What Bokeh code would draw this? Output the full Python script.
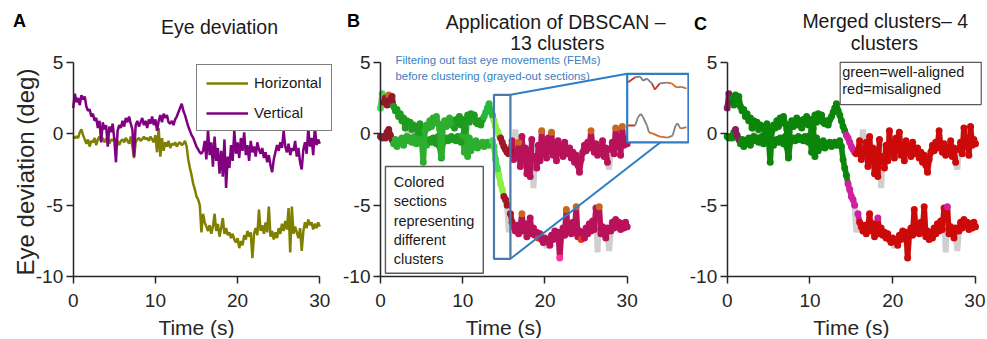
import math
from bokeh.plotting import figure
from bokeh.layouts import row
from bokeh.models import Range1d, FixedTicker, Label, Legend, LegendItem, ColumnDataSource
from bokeh.embed import file_html
from bokeh.resources import INLINE

FONT = "Liberation Sans"
AXIS_COLOR = "#262626"
TEXT_COLOR = "#1a1a1a"

TICKS_X = [0, 10, 20, 30]
TICKS_Y = [-10, -5, 0, 5]
TICK_TEXT_Y = {-10: "-10", -5: "-5", 0: "0", 5: "5"}

# Eye deviation traces (deg), sampled every 0.2 s from 0 to 30 s
VERTICAL = [
    1.8, 2.8, 2.2, 2.5, 2.0,
    2.7, 2.4, 2.6, 1.9, 1.6,
    1.7, 1.2, 1.4, 0.9, 1.1,
    0.4, 0.9, -0.6, 0.8, 0.3,
    0.6, -0.9, 0.5, 0.1, 0.7,
    -0.4, -2.0, 0.2, 0.6, 0.4,
    0.9, 0.5, 1.1, 0.8, 1.2,
    0.7, 0.3, -1.6, 0.6, 0.9,
    0.5, 0.8, 1.1, 0.6, 0.9,
    0.4, 1.0, 0.7, 1.2, 0.6,
    1.0, 0.2, 0.9, 1.3, 0.8,
    1.4, 1.1, 1.3, 0.8, 0.7,
    0.9, 0.6, 1.0, 1.2, 1.5,
    1.8, 2.1, 1.6, 1.3, 0.9,
    0.5, 0.2, -0.1, -0.3, -0.6,
    -0.9, -1.1, -1.3, -1.4, -1.2,
    -0.5, -1.8, 0.3, -1.5, -0.6,
    -2.3, -0.2, -1.9, -1.0, -2.8,
    -1.2, -3.0, -0.4, -3.8, -1.6,
    -2.4, -0.8, -1.9, 0.2, -1.4,
    -0.6, -1.7, -0.3, -1.2, 0.1,
    -1.5, -0.8, -1.9, -0.5, -1.3,
    -0.9, -1.6, -0.6, -1.1, -1.4,
    -1.0, -1.7, -1.3, -2.0, -1.5,
    -2.2, -2.7, -1.8, -1.3, -0.8,
    -1.2, -0.6, -1.0, 0.2, -0.9,
    -1.3, -0.7, -1.5, -1.0, -1.2,
    -0.5, -1.6, -1.0, -2.0, -2.5,
    -1.1, -0.6, -1.4, 0.4, -0.9,
    -0.3, -1.5, 0.5, -0.8, -0.4,
    -0.7,
]
HORIZONTAL = [
    -0.2, -0.3, -0.2, -0.3, 0.1,
    0.3, -0.1, -0.4, -0.7, -0.4,
    -0.9, -0.5, -0.6, -0.3, -0.8,
    -0.4, -0.2, -0.5, -0.3, -0.6,
    -0.4, -0.2, -0.7, -0.4, -0.5,
    -0.3, -0.6, -0.5, -0.8, -0.5,
    -0.4, -0.6, -0.3, -0.5, -0.7,
    -0.2, -0.9, -1.7, -0.6, -0.4,
    -0.3, -0.5, -0.4, -0.2, -0.4,
    -0.3, -0.5, -0.2, -0.4, -0.6,
    -0.1, -1.3, 0.4, -1.6, -0.3,
    -1.2, -0.6, -0.9, -0.5, -1.0,
    -0.7, -0.8, -0.6, -0.9, -0.7,
    -0.6, -0.8, -0.7, -0.5, -0.9,
    -1.8, -2.4, -2.9, -3.5, -3.9,
    -4.4, -4.6, -5.0, -6.9, -5.6,
    -6.2, -6.5, -6.8, -6.4, -7.0,
    -6.5, -5.6, -6.8, -6.3, -7.2,
    -6.6, -5.9, -7.0, -6.6, -7.1,
    -6.9, -7.3, -7.0, -7.4, -7.6,
    -7.3, -8.0, -7.5, -7.8, -7.1,
    -7.4, -6.8, -7.2, -6.9, -8.7,
    -7.0, -6.6, -7.1, -5.3, -6.8,
    -6.4, -7.0, -6.2, -6.9, -5.1,
    -7.2, -6.8, -7.4, -6.9, -7.3,
    -6.6, -7.0, -6.3, -6.8, -6.1,
    -6.7, -5.2, -8.3, -5.1, -7.0,
    -6.5, -6.9, -7.3, -6.6, -8.2,
    -6.8, -6.2, -6.6, -6.0, -6.4,
    -6.2, -6.7, -6.3, -6.6, -6.2,
    -6.5,
]
T = [round(i * 0.2, 1) for i in range(len(VERTICAL))]

# Samples removed as fast eye movements (shown only as gray line)
FEM_V = [3.4, 4.2, 16.4, 18.6, 27.8]
FEM_H = [15.6, 20.2, 26.4, 27.8]

# Panel B: DBSCAN clusters (segment start times and cluster names)
B_COLORS = {
    "maroon": "#8e1a2a", "ltgreen": "#45d855", "green1": "#1f9c1f", "green2": "#2eae2e",
    "green3": "#25b83d", "lime": "#8cf040", "dkred": "#a3162a", "crimson": "#b8125a",
    "orange": "#c9681c", "red": "#e8381a", "pink": "#ff3399",
}
B_V_STARTS = [0.0, 0.4, 1.6, 5.0, 9.0, 12.6, 13.8, 14.6, 16.0]
B_V_NAMES = ["ltgreen", "maroon", "green1", "green2", "green1", "green3", "lime", "dkred", "crimson"]
B_H_STARTS = [0.0, 1.6, 6.0, 10.0, 13.6, 14.4, 15.0, 16.2]
B_H_NAMES = ["maroon", "green2", "green1", "green2", "ltgreen", "lime", "dkred", "crimson"]
B_V_SPECKLE_T = [1.0, 16.8, 19.6, 20.8, 25.6, 28.6, 29.4]
B_V_SPECKLE = ["orange", "orange", "orange", "orange", "orange", "orange", "orange"]
B_H_SPECKLE_T = [17.2, 19.2, 22.6, 23.8, 24.4, 21.8, 26.6]
B_H_SPECKLE = ["orange", "red", "orange", "orange", "red", "pink", "orange"]

# Panel C: merged clusters
C_COLORS = {"green": "#0b860b", "red": "#cc0a0a", "magenta": "#d020a0", "dkmag": "#8b1a5e"}
C_V_STARTS = [0.0, 0.6, 14.4, 15.6]
C_V_NAMES = ["dkmag", "green", "magenta", "red"]
C_H_STARTS = [0.0, 1.0, 1.6, 14.6, 16.0]
C_H_NAMES = ["green", "dkmag", "green", "magenta", "red"]
C_H_SPECKLE_T = [18.2, 26.6]
C_H_SPECKLE = ["magenta", "magenta"]

# Zoomed inset in panel B (fractions of the inset box)
INSET_UP_X = [0.016, 0.129, 0.21, 0.258, 0.323, 0.403, 0.452, 0.532, 0.645, 0.726, 0.806, 0.887, 0.968]
INSET_UP_Y = [0.877, 0.95, 0.96, 0.90, 0.93, 0.86, 0.77, 0.86, 0.87, 0.86, 0.80, 0.81, 0.785]
INSET_UP_C = ["r", "g", "g", "g", "g", "r", "r", "g", "o", "o", "g", "o"]
INSET_LO_X = [0.016, 0.129, 0.177, 0.221, 0.258, 0.323, 0.355, 0.419, 0.532, 0.661, 0.742, 0.79, 0.823, 0.871, 0.968]
INSET_LO_Y = [0.245, 0.245, 0.366, 0.415, 0.366, 0.245, 0.146, 0.127, 0.083, 0.069, 0.098, 0.245, 0.275, 0.2, 0.22]
INSET_LO_C = ["r", "g", "g", "g", "g", "g", "o", "o", "o", "g", "g", "g", "g", "o"]
INSET_COLORS = {"r": "#c0392b", "g": "#808080", "o": "#d2691e"}

# Layout (pixels): each canvas is fully frame; axes drawn at fixed data locations
HEIGHT = 338
Y5_PX = 61.7          # pixel row of y = 5
PX_PER_DEG = 14.3


def y_range():
    return Range1d(-10 - (HEIGHT - Y5_PX - 15 * PX_PER_DEG) / PX_PER_DEG, 5 + Y5_PX / PX_PER_DEG)


def cluster_colors(starts, names, palette, sp_t=(), sp_n=()):
    out = []
    for t in T:
        nm = names[0]
        for s, n in zip(starts, names):
            if t >= s - 1e-9:
                nm = n
        for st, sn in zip(sp_t, sp_n):
            if abs(t - st) < 1e-6:
                nm = sn
        out.append(palette[nm])
    return out


def is_fem(t, fem):
    return any(abs(t - f) < 1e-6 for f in fem)


def draw_clusters(p, values, base_colors, dot_colors, fem):
    xs, ys, cs = [], [], []
    x0, y0, x1, y1, sc = [], [], [], [], []
    for i, (t, v) in enumerate(zip(T, values)):
        if is_fem(t, fem):
            continue
        xs.append(t)
        ys.append(v)
        cs.append(dot_colors[i])
        if i + 1 < len(T) and not is_fem(T[i + 1], fem):
            x0.append(t)
            y0.append(v)
            x1.append(T[i + 1])
            y1.append(values[i + 1])
            sc.append(base_colors[i])
    p.segment(x0=x0, y0=y0, x1=x1, y1=y1, line_color=sc, line_width=5.5)
    p.scatter("x", "y", source=ColumnDataSource(dict(x=xs, y=ys, c=cs)), size=7,
              fill_color="c", line_color=None)


def base_fig(width, x0_px, px_per_s):
    p = figure(width=width, height=HEIGHT,
               x_range=Range1d(-x0_px / px_per_s, (width - x0_px) / px_per_s), y_range=y_range(),
               output_backend="svg", toolbar_location=None,
               min_border_left=0, min_border_right=0, min_border_top=0, min_border_bottom=0)
    p.outline_line_color = None
    p.xgrid.visible = False
    p.ygrid.visible = False
    p.border_fill_color = "white"
    p.background_fill_color = "white"
    p.xaxis.ticker = FixedTicker(ticks=TICKS_X)
    p.yaxis.ticker = FixedTicker(ticks=TICKS_Y)
    p.yaxis.major_label_overrides = TICK_TEXT_Y
    p.xaxis.bounds = (0, 30)
    p.yaxis.bounds = (-10, 5)
    p.xaxis.fixed_location = -10
    p.yaxis.fixed_location = 0
    p.axis.axis_line_color = AXIS_COLOR
    p.axis.axis_line_width = 1.5
    p.axis.major_tick_line_color = AXIS_COLOR
    p.axis.major_tick_line_width = 1.5
    p.axis.major_tick_in = 0
    p.axis.major_tick_out = 7
    p.axis.minor_tick_line_color = None
    p.axis.major_label_text_font = FONT
    p.axis.major_label_text_font_size = "19px"
    p.axis.major_label_text_color = AXIS_COLOR
    p.xaxis.major_label_standoff = 10
    p.yaxis.major_label_standoff = 3
    return p


def txt(p, x, y, text, size, color=TEXT_COLOR, bold=False, align="center", baseline="middle", angle=0.0):
    p.add_layout(Label(x=x, y=y, text=text, text_font=FONT, text_font_size=size, text_color=color,
                       text_font_style="bold" if bold else "normal", text_align=align,
                       text_baseline=baseline, angle=angle))


# ---------------- Panel A ----------------
pA = base_fig(333, 72.7, 8.22)
rH = pA.line(T, HORIZONTAL, line_color="#808000", line_width=2.5)
rV = pA.line(T, VERTICAL, line_color="#800080", line_width=2.5)
leg = Legend(items=[LegendItem(label="Horizontal", renderers=[rH]),
                    LegendItem(label="Vertical", renderers=[rV])],
             location=(196, HEIGHT - 131), orientation="vertical", border_line_color="black",
             border_line_width=1.5, background_fill_color="white", background_fill_alpha=1.0,
             label_text_font=FONT, label_text_font_size="15px", label_text_color=TEXT_COLOR,
             glyph_width=42, glyph_height=16, label_height=16, label_standoff=6,
             padding=9, spacing=13, margin=0)
pA.add_layout(leg)
txt(pA, -6.53, 7.85, "A", "18px", color="black", bold=True)
txt(pA, 17.8, 7.43, "Eye deviation", "19.5px")
txt(pA, -5.8, -2.68, "Eye deviation (deg)", "24px", color=AXIS_COLOR, angle=math.pi / 2)
txt(pA, 15, -13.55, "Time (s)", "21px", color=AXIS_COLOR)

# ---------------- Panel B ----------------
pB = base_fig(356, 47, 8.223)
for vals in (VERTICAL, HORIZONTAL):
    pB.line(T, vals, line_color="#cfcfcf", line_width=6)
draw_clusters(pB, HORIZONTAL, cluster_colors(B_H_STARTS, B_H_NAMES, B_COLORS),
              cluster_colors(B_H_STARTS, B_H_NAMES, B_COLORS, B_H_SPECKLE_T, B_H_SPECKLE), FEM_H)
draw_clusters(pB, VERTICAL, cluster_colors(B_V_STARTS, B_V_NAMES, B_COLORS),
              cluster_colors(B_V_STARTS, B_V_NAMES, B_COLORS, B_V_SPECKLE_T, B_V_SPECKLE), FEM_V)

# zoom rectangle, connector lines and inset
RECT_L, RECT_R, RECT_B, RECT_T = 13.8, 15.8, -8.75, 2.72
INS_L, INS_R, INS_B, INS_T = 30.0, 37.45, -0.6, 4.19
pB.line([RECT_R, INS_L], [RECT_T, INS_T], line_color="#2f7ec5", line_width=2)
pB.line([RECT_R, 34.05], [RECT_B, INS_B], line_color="#2f7ec5", line_width=2)
pB.quad(left=RECT_L, right=RECT_R, bottom=RECT_B, top=RECT_T, fill_color=None,
        line_color="#4a78a8", line_width=2.2)
pB.quad(left=INS_L, right=INS_R, bottom=INS_B, top=INS_T, fill_color="white",
        line_color="#2f7ec5", line_width=2.2)
for xs_f, ys_f, cs in ((INSET_UP_X, INSET_UP_Y, INSET_UP_C), (INSET_LO_X, INSET_LO_Y, INSET_LO_C)):
    xs = [INS_L + f * (INS_R - INS_L) for f in xs_f]
    ys = [INS_B + f * (INS_T - INS_B) for f in ys_f]
    pB.segment(x0=xs[:-1], y0=ys[:-1], x1=xs[1:], y1=ys[1:],
               line_color=[INSET_COLORS[c] for c in cs], line_width=1.8)

# "Colored sections" box
pB.quad(left=0.6, right=12.5, bottom=-9.76, top=-2.29, fill_color="white",
        line_color="#5a5a5a", line_width=1.4)
for yy, s in zip([-3.39, -4.74, -6.09, -7.44, -8.79],
                 ["Colored", "sections", "representing", "different", "clusters"]):
    txt(pB, 1.6, yy, s, "14.5px", align="left")
txt(pB, 1.82, 5.12, "Filtering out fast eye movements  (FEMs)", "11.4px", color="#3b7dc0", align="left")
txt(pB, 1.82, 4.03, "before clustering (grayed-out sections)", "11.4px", color="#3b7dc0", align="left")
txt(pB, -3.28, 7.85, "B", "18px", color="black", bold=True)
txt(pB, 21.3, 7.78, "Application of DBSCAN \u2013", "19.5px")
txt(pB, 21.5, 6.31, "13 clusters", "19.5px")
txt(pB, 15, -13.55, "Time (s)", "21px", color=AXIS_COLOR)

# ---------------- Panel C ----------------
pC = base_fig(296, 37.7, 8.277)
for vals in (VERTICAL, HORIZONTAL):
    pC.line(T, vals, line_color="#cfcfcf", line_width=6)
draw_clusters(pC, HORIZONTAL, cluster_colors(C_H_STARTS, C_H_NAMES, C_COLORS),
              cluster_colors(C_H_STARTS, C_H_NAMES, C_COLORS, C_H_SPECKLE_T, C_H_SPECKLE), FEM_H)
draw_clusters(pC, VERTICAL, cluster_colors(C_V_STARTS, C_V_NAMES, C_COLORS),
              cluster_colors(C_V_STARTS, C_V_NAMES, C_COLORS), FEM_V)
pC.quad(left=13.65, right=30.69, bottom=2.04, top=4.99, fill_color="white",
        line_color="#5a5a5a", line_width=1.2)
txt(pC, 13.9, 4.3, "green=well-aligned", "14.5px", align="left")
txt(pC, 13.9, 3.14, "red=misaligned", "14.5px", align="left")
txt(pC, -3.23, 7.7, "C", "18px", color="black", bold=True)
txt(pC, 19.1, 7.85, "Merged clusters\u2013 4", "19.5px")
txt(pC, 19.0, 6.31, "clusters", "19.5px")
txt(pC, 15, -13.55, "Time (s)", "21px", color=AXIS_COLOR)

layout = row(pA, pB, pC)
open("out.html", "w").write(file_html(layout, INLINE))
